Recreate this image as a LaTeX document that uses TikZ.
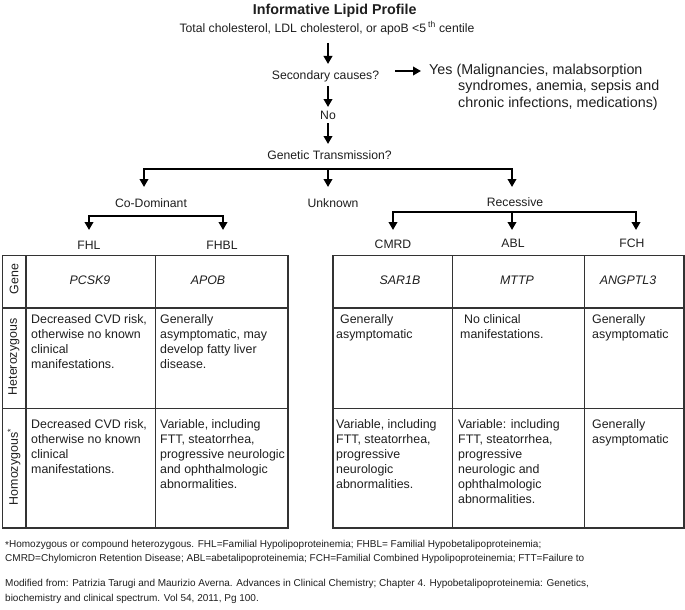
\documentclass[tikz,border=0pt]{standalone}
\usepackage{fontspec}
\setmainfont{Liberation Sans}
\usetikzlibrary{arrows.meta}
\definecolor{ink}{HTML}{1E1E1E}
\definecolor{rulec}{HTML}{333333}
\begin{document}
\begin{tikzpicture}[x=1pt,y=-1pt,
  arr/.style={line width=2.3pt, draw=black, line join=miter, -{Triangle[length=8pt,width=8.5pt]}},
  lab/.style={inner sep=0pt, anchor=base, font=\fontsize{12.2}{14}\selectfont, text=ink},
  cell/.style={inner sep=0pt, anchor=north west, align=left, font=\fontsize{12.4}{15}\selectfont, text=ink},
  gene/.style={inner sep=0pt, anchor=base, font=\fontsize{12.4}{15}\selectfont\itshape, text=ink},
  side/.style={inner sep=0pt, rotate=90, font=\fontsize{12.4}{14}\selectfont, text=ink},
  outer/.style={line width=1.8pt, draw=rulec},
  inner/.style={line width=1.2pt, draw=rulec},
  note/.style={inner sep=0pt, anchor=north west, align=left, text=ink},
]
\useasboundingbox (0,0) rectangle (685,610);

% ---------- flow chart labels ----------
\node[lab, font=\fontsize{14.3}{16}\selectfont\bfseries] (title) at (334.7,15) {Informative Lipid Profile};
\node[lab] (sub) at (327,32.3) {Total cholesterol, LDL cholesterol, or apoB <5\,\textsuperscript{th} centile};
\node[lab] (sec) at (325.5,80) {Secondary causes?};
\node[note, font=\fontsize{14.3}{16.5}\selectfont] (yes) at (429,63.5)
  {Yes (Malignancies, malabsorption\\\hspace*{29pt}syndromes, anemia, sepsis and\\\hspace*{29pt}chronic infections, medications)};
\node[lab] (no) at (328,119.5) {No};
\node[lab] (gt) at (329.5,159) {Genetic Transmission?};
\node[lab] (cod) at (151,207) {Co-Dominant};
\node[lab] (unk) at (333,207) {Unknown};
\node[lab] (rec) at (515,206) {Recessive};
\node[lab] (fhl) at (89,249) {FHL};
\node[lab] (fhbl) at (222,249) {FHBL};
\node[lab] (cmrd) at (393,248.5) {CMRD};
\node[lab] (abl) at (513,247.5) {ABL};
\node[lab] (fch) at (632,247.5) {FCH};

% ---------- connector end points ----------
\coordinate (a1s) at (328,43);  \coordinate (a1e) at (328,64);
\coordinate (a2s) at (328,86);  \coordinate (a2e) at (328,107);
\coordinate (a3s) at (328,123); \coordinate (a3e) at (328,144);
\coordinate (ys) at (395,71);   \coordinate (ye) at (421,71);
\coordinate (gtbar) at (328,169);
\coordinate (gtL) at (144,187); \coordinate (gtM) at (328,187); \coordinate (gtR) at (512,187);
\coordinate (cdbar) at (156,216);
\coordinate (cdL) at (89,230);  \coordinate (cdR) at (223,230);
\coordinate (rcbar) at (512,212);
\coordinate (rcL) at (393,230); \coordinate (rcM) at (512,230); \coordinate (rcR) at (636,230);

\draw[arr] (a1s) -- (a1e);
\draw[arr] (a2s) -- (a2e);
\draw[arr] (a3s) -- (a3e);
\draw[arr] (ys) -- (ye);
\draw[arr] (gtbar) -| (gtL);
\draw[arr] (gtbar) -| (gtR);
\draw[arr] (gtbar) -- (gtM);
\draw[arr] (cdbar) -| (cdL);
\draw[arr] (cdbar) -| (cdR);
\draw[arr] (rcbar) -| (rcL);
\draw[arr] (rcbar) -| (rcR);
\draw[arr] (rcbar) -- (rcM);

% ---------- left table ----------
\draw[inner] (26,255.5) -- (26,528) (155.5,255.5) -- (155.5,528)
  (2.5,308) -- (288,308) (2.5,408.5) -- (288,408.5);
\draw[outer] (2.5,255.5) rectangle (288,528);
% ---------- right table ----------
\draw[inner] (452.5,255.5) -- (452.5,528) (584.5,255.5) -- (584.5,528)
  (333,308) -- (684,308) (333,408.5) -- (684,408.5);
\draw[outer] (333,255.5) rectangle (684,528);

% row labels
\node[side] (lgene) at (14,279) {Gene};
\node[side] (lhet) at (14,357) {Heterozygous};
\node[side] (lhom) at (14,467) {Homozygous\textsuperscript{*}};

% gene row
\node[gene] (g1) at (90,284.5) {PCSK9};
\node[gene] (g2) at (208,284.5) {APOB};
\node[gene] (g3) at (400,284.5) {SAR1B};
\node[gene] (g4) at (517,284.5) {MTTP};
\node[gene] (g5) at (628,284.5) {ANGPTL3};

% heterozygous row
\node[cell] (h1) at (31,314.5) {Decreased CVD risk,\\otherwise no known\\clinical\\manifestations.};
\node[cell] (h2) at (160,314.5) {Generally\\asymptomatic, may\\develop fatty liver\\disease.};
\node[cell] (h3) at (336,314.5) {\hspace*{4pt}Generally\\asymptomatic};
\node[cell] (h4) at (460,314.5) {\hspace*{4pt}No clinical\\manifestations.};
\node[cell] (h5) at (592,314.5) {Generally\\asymptomatic};

% homozygous row
\node[cell] (m1) at (31,419) {Decreased CVD risk,\\otherwise no known\\clinical\\manifestations.};
\node[cell] (m2) at (160,419) {Variable, including\\FTT, steatorrhea,\\progressive neurologic\\and ophthalmologic\\abnormalities.};
\node[cell] (m3) at (336,419) {Variable, including\\FTT, steatorrhea,\\progressive\\neurologic\\abnormalities.};
\node[cell] (m4) at (458,419) {Variable: including\\FTT, steatorrhea,\\progressive\\neurologic and\\ophthalmologic\\abnormalities.};
\node[cell] (m5) at (592,419) {Generally\\asymptomatic};

% ---------- notes ----------
\node[note, font=\fontsize{10}{14}\selectfont] (fn) at (5,540.5)
  {\raisebox{-0.15ex}{*}Homozygous or compound heterozygous. FHL=Familial Hypolipoproteinemia; FHBL= Familial Hypobetalipoproteinemia;\\CMRD=Chylomicron Retention Disease; ABL=abetalipoproteinemia; FCH=Familial Combined Hypolipoproteinemia; FTT=Failure to};
\node[note, font=\fontsize{10}{15}\selectfont] (src) at (5,579)
  {Modified from: Patrizia Tarugi and Maurizio Averna. Advances in Clinical Chemistry; Chapter 4. Hypobetalipoproteinemia: Genetics,\\biochemistry and clinical spectrum. Vol 54, 2011, Pg 100.};
\end{tikzpicture}
\end{document}
